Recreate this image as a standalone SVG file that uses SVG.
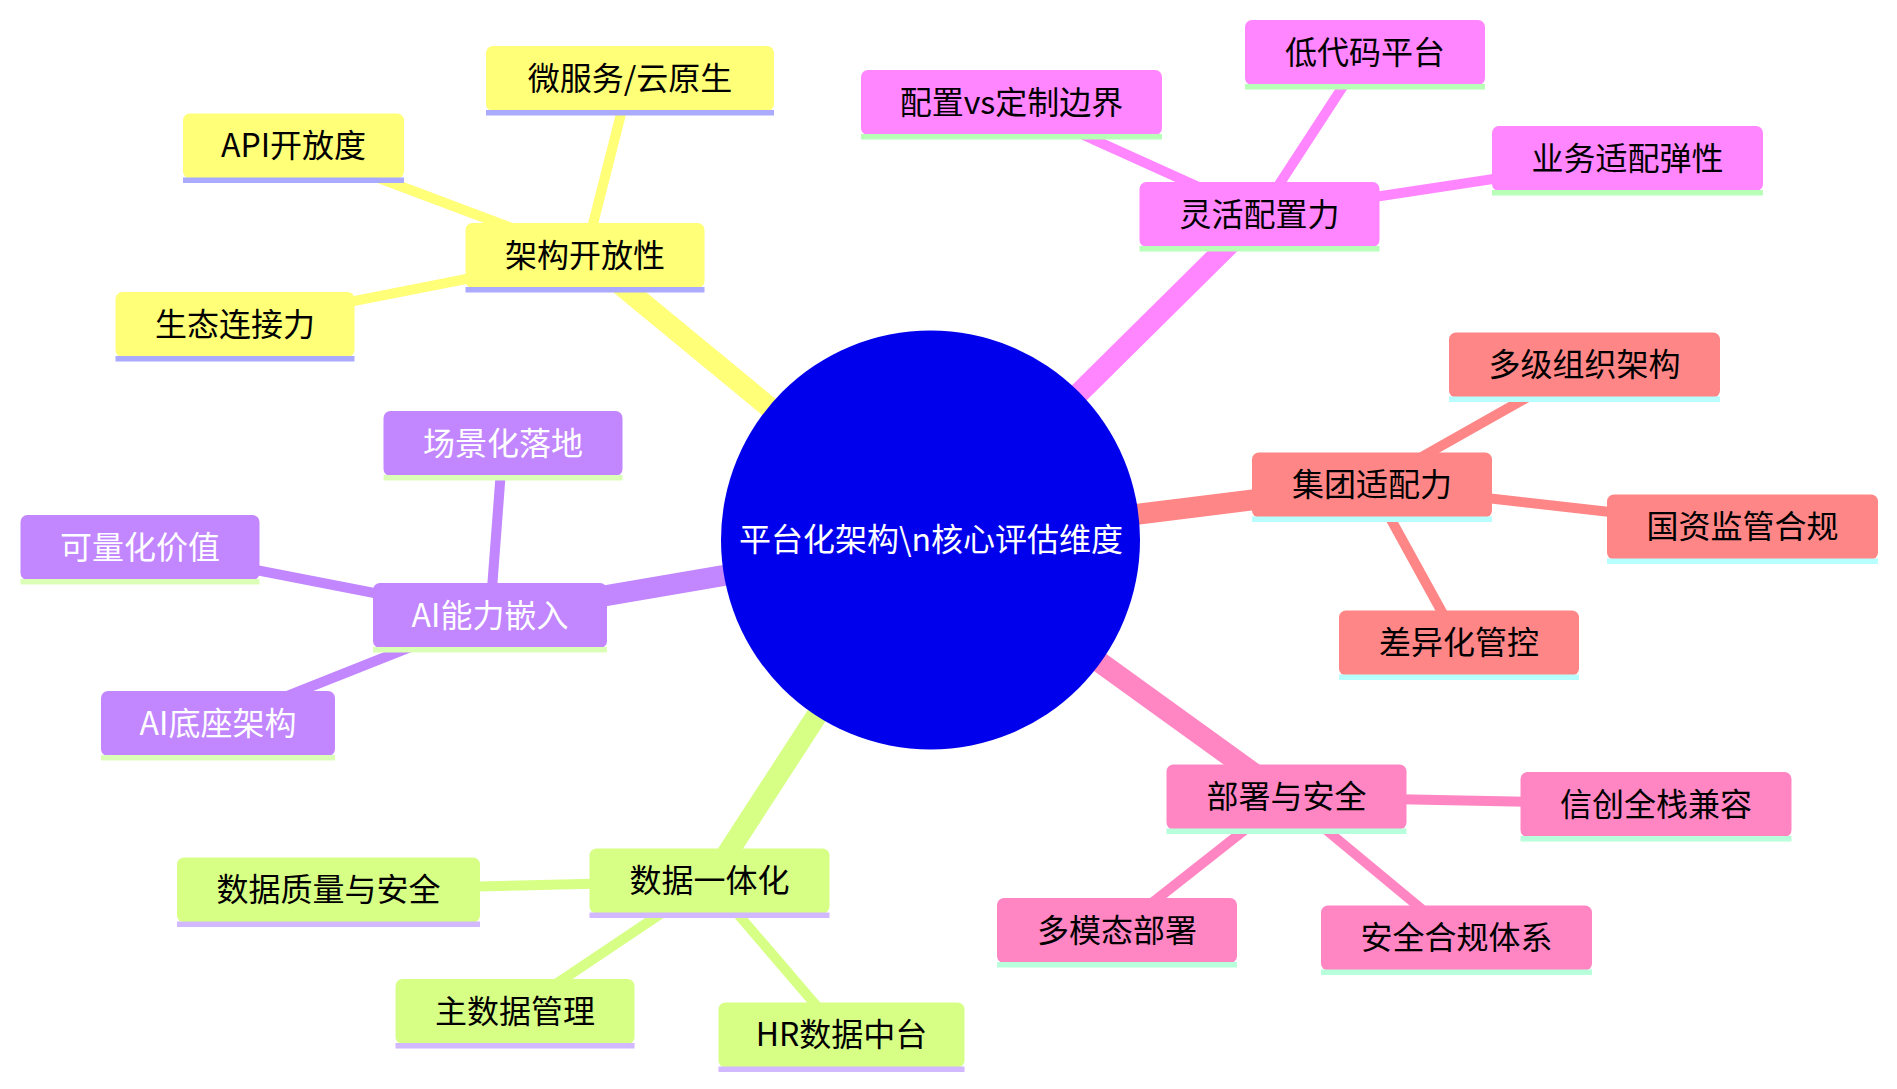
<svg xmlns="http://www.w3.org/2000/svg" width="1897" height="1089" viewBox="0 0 1897 1089">
<style>
text{font-family:"Noto Sans CJK SC","Noto Sans",sans-serif;font-size:32px;text-anchor:middle;fill:#000}
.e0{stroke-width:21;stroke-linecap:butt;fill:none}
.e1{stroke-width:10;stroke-linecap:butt;fill:none}
.s0{fill:#ffff78}.s0e{stroke:#ffff78}.s0l{fill:#aaaaff}
.s1{fill:#ff86ff}.s1e{stroke:#ff86ff}.s1l{fill:#b8ffb8}
.s2{fill:#ff8686}.s2e{stroke:#ff8686}.s2l{fill:#b8ffff}
.s3{fill:#ff86c2}.s3e{stroke:#ff86c2}.s3l{fill:#b8ffdb}
.s4{fill:#d7ff86}.s4e{stroke:#d7ff86}.s4l{fill:#d1b8ff}
.s5{fill:#c286ff}.s5e{stroke:#c286ff}.s5l{fill:#dcffb8}
.w{fill:#fff}
</style>
<rect width="1897" height="1089" fill="#fff"/>
<g id="connectors">
<line class="e0 s0e" x1="930.5" y1="540" x2="585" y2="255.5"/>
<line class="e0 s1e" x1="930.5" y1="540" x2="1259.5" y2="214.5"/>
<line class="e0 s2e" x1="930.5" y1="540" x2="1372" y2="485"/>
<line class="e0 s3e" x1="930.5" y1="540" x2="1286.5" y2="797"/>
<line class="e0 s4e" x1="930.5" y1="540" x2="709.5" y2="881"/>
<line class="e0 s5e" x1="930.5" y1="540" x2="490" y2="615.5"/>
<line class="e1 s0e" x1="585" y1="255.5" x2="630" y2="78.5"/>
<line class="e1 s0e" x1="585" y1="255.5" x2="293.5" y2="146"/>
<line class="e1 s0e" x1="585" y1="255.5" x2="235" y2="324.5"/>
<line class="e1 s1e" x1="1259.5" y1="214.5" x2="1011.5" y2="102.5"/>
<line class="e1 s1e" x1="1259.5" y1="214.5" x2="1365" y2="52.5"/>
<line class="e1 s1e" x1="1259.5" y1="214.5" x2="1627.5" y2="158.5"/>
<line class="e1 s2e" x1="1372" y1="485" x2="1584.5" y2="365"/>
<line class="e1 s2e" x1="1372" y1="485" x2="1742.5" y2="527"/>
<line class="e1 s2e" x1="1372" y1="485" x2="1459" y2="643"/>
<line class="e1 s3e" x1="1286.5" y1="797" x2="1656" y2="804.5"/>
<line class="e1 s3e" x1="1286.5" y1="797" x2="1117" y2="930.5"/>
<line class="e1 s3e" x1="1286.5" y1="797" x2="1456.5" y2="938"/>
<line class="e1 s4e" x1="709.5" y1="881" x2="328.5" y2="890"/>
<line class="e1 s4e" x1="709.5" y1="881" x2="515" y2="1011.5"/>
<line class="e1 s4e" x1="709.5" y1="881" x2="841.5" y2="1035"/>
<line class="e1 s5e" x1="490" y1="615.5" x2="503" y2="443.5"/>
<line class="e1 s5e" x1="490" y1="615.5" x2="140" y2="547.5"/>
<line class="e1 s5e" x1="490" y1="615.5" x2="218" y2="723.5"/>
</g>
<g id="root">
<circle cx="930.5" cy="540" r="209.5" fill="#0000ec"/>
<text class="w" x="931" y="551">平台化架构\n核心评估维度</text>
</g>
<g id="n-arch">
<rect class="s0" x="465.5" y="223" width="239" height="65" rx="7"/><rect class="s0l" x="465.5" y="287" width="239" height="5.5"/>
<text x="585" y="266.5">架构开放性</text>
</g>
<g id="n-micro">
<rect class="s0" x="486" y="46" width="288" height="65" rx="7"/><rect class="s0l" x="486" y="110" width="288" height="5.5"/>
<text x="630" y="89.5">微服务/云原生</text>
</g>
<g id="n-api">
<rect class="s0" x="183" y="113.5" width="221" height="65" rx="7"/><rect class="s0l" x="183" y="177.5" width="221" height="5.5"/>
<text x="293.5" y="157">API开放度</text>
</g>
<g id="n-eco">
<rect class="s0" x="115.5" y="292" width="239" height="65" rx="7"/><rect class="s0l" x="115.5" y="356" width="239" height="5.5"/>
<text x="235" y="335.5">生态连接力</text>
</g>
<g id="n-flex">
<rect class="s1" x="1139.5" y="182" width="240" height="65" rx="7"/><rect class="s1l" x="1139.5" y="246" width="240" height="5.5"/>
<text x="1259.5" y="225.5">灵活配置力</text>
</g>
<g id="n-cfg">
<rect class="s1" x="861" y="70" width="301" height="65" rx="7"/><rect class="s1l" x="861" y="134" width="301" height="5.5"/>
<text x="1011.5" y="113.5">配置vs定制边界</text>
</g>
<g id="n-lowcode">
<rect class="s1" x="1245" y="20" width="240" height="65" rx="7"/><rect class="s1l" x="1245" y="84" width="240" height="5.5"/>
<text x="1365" y="63.5">低代码平台</text>
</g>
<g id="n-elastic">
<rect class="s1" x="1492" y="126" width="271" height="65" rx="7"/><rect class="s1l" x="1492" y="190" width="271" height="5.5"/>
<text x="1627.5" y="169.5">业务适配弹性</text>
</g>
<g id="n-group">
<rect class="s2" x="1252" y="452.5" width="240" height="65" rx="7"/><rect class="s2l" x="1252" y="516.5" width="240" height="5.5"/>
<text x="1372" y="496">集团适配力</text>
</g>
<g id="n-multiorg">
<rect class="s2" x="1449" y="332.5" width="271" height="65" rx="7"/><rect class="s2l" x="1449" y="396.5" width="271" height="5.5"/>
<text x="1584.5" y="376">多级组织架构</text>
</g>
<g id="n-soe">
<rect class="s2" x="1607" y="494.5" width="271" height="65" rx="7"/><rect class="s2l" x="1607" y="558.5" width="271" height="5.5"/>
<text x="1742.5" y="538">国资监管合规</text>
</g>
<g id="n-diff">
<rect class="s2" x="1339" y="610.5" width="240" height="65" rx="7"/><rect class="s2l" x="1339" y="674.5" width="240" height="5.5"/>
<text x="1459" y="654">差异化管控</text>
</g>
<g id="n-deploy">
<rect class="s3" x="1166.5" y="764.5" width="240" height="65" rx="7"/><rect class="s3l" x="1166.5" y="828.5" width="240" height="5.5"/>
<text x="1286.5" y="808">部署与安全</text>
</g>
<g id="n-xinchuang">
<rect class="s3" x="1520.5" y="772" width="271" height="65" rx="7"/><rect class="s3l" x="1520.5" y="836" width="271" height="5.5"/>
<text x="1656" y="815.5">信创全栈兼容</text>
</g>
<g id="n-multimode">
<rect class="s3" x="997" y="898" width="240" height="65" rx="7"/><rect class="s3l" x="997" y="962" width="240" height="5.5"/>
<text x="1117" y="941.5">多模态部署</text>
</g>
<g id="n-compliance">
<rect class="s3" x="1321" y="905.5" width="271" height="65" rx="7"/><rect class="s3l" x="1321" y="969.5" width="271" height="5.5"/>
<text x="1456.5" y="949">安全合规体系</text>
</g>
<g id="n-data">
<rect class="s4" x="589.5" y="848.5" width="240" height="65" rx="7"/><rect class="s4l" x="589.5" y="912.5" width="240" height="5.5"/>
<text x="709.5" y="892">数据一体化</text>
</g>
<g id="n-quality">
<rect class="s4" x="177" y="857.5" width="303" height="65" rx="7"/><rect class="s4l" x="177" y="921.5" width="303" height="5.5"/>
<text x="328.5" y="901">数据质量与安全</text>
</g>
<g id="n-mdm">
<rect class="s4" x="395.5" y="979" width="239" height="65" rx="7"/><rect class="s4l" x="395.5" y="1043" width="239" height="5.5"/>
<text x="515" y="1022.5">主数据管理</text>
</g>
<g id="n-hrdata">
<rect class="s4" x="718.5" y="1002.5" width="246" height="65" rx="7"/><rect class="s4l" x="718.5" y="1066.5" width="246" height="5.5"/>
<text x="841.5" y="1046">HR数据中台</text>
</g>
<g id="n-ai">
<rect class="s5" x="373" y="583" width="234" height="65" rx="7"/><rect class="s5l" x="373" y="647" width="234" height="5.5"/>
<text class="w" x="490" y="626.5">AI能力嵌入</text>
</g>
<g id="n-scene">
<rect class="s5" x="383.5" y="411" width="239" height="65" rx="7"/><rect class="s5l" x="383.5" y="475" width="239" height="5.5"/>
<text class="w" x="503" y="454.5">场景化落地</text>
</g>
<g id="n-value">
<rect class="s5" x="20.5" y="515" width="239" height="65" rx="7"/><rect class="s5l" x="20.5" y="579" width="239" height="5.5"/>
<text class="w" x="140" y="558.5">可量化价值</text>
</g>
<g id="n-aibase">
<rect class="s5" x="101" y="691" width="234" height="65" rx="7"/><rect class="s5l" x="101" y="755" width="234" height="5.5"/>
<text class="w" x="218" y="734.5">AI底座架构</text>
</g>
</svg>
